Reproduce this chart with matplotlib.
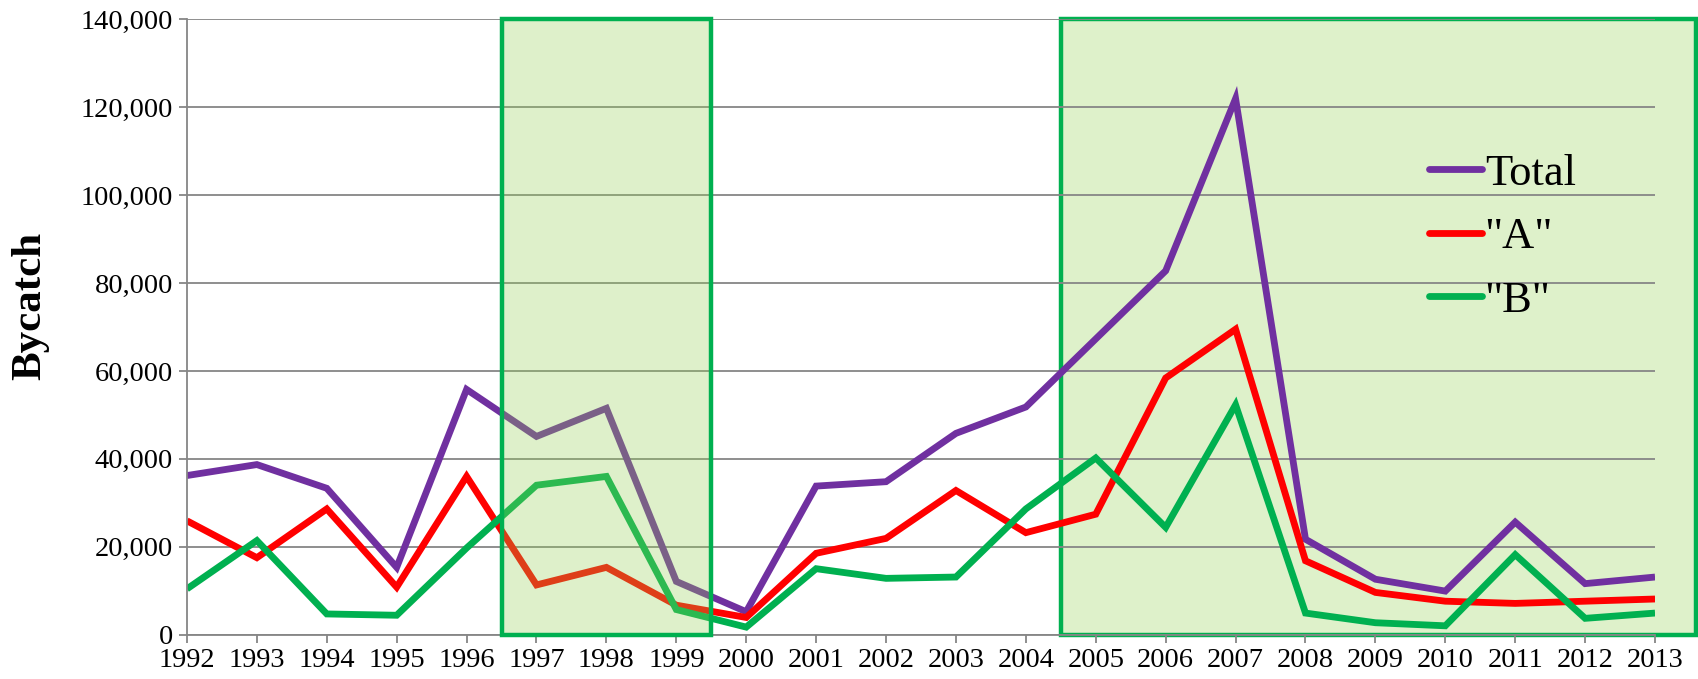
import matplotlib.pyplot as plt
from matplotlib.patches import Rectangle
from matplotlib.ticker import FuncFormatter

years = list(range(1992, 2014))
total = [36200, 38700, 33300, 15300, 55800, 45100, 51500, 12100, 5200, 33800, 34800,
         45800, 51800, 67300, 82800, 122000, 21700, 12600, 9900, 25600, 11600, 13100]
a_vals = [25900, 17500, 28600, 10800, 36000, 11300, 15300, 6700, 3900, 18500, 21900,
          32800, 23200, 27400, 58400, 69500, 16800, 9600, 7600, 7100, 7600, 8100]
b_vals = [10400, 21400, 4700, 4400, 19700, 34000, 36000, 5700, 1700, 15000, 12800,
          13100, 28600, 40200, 24400, 52300, 4900, 2700, 2000, 18200, 3700, 4900]
labels = ["Total", '"A"', '"B"']
colors = ["#7030A0", "#FF0000", "#00B050"]

plt.rcParams['font.family'] = ['Liberation Serif', 'DejaVu Serif']

fig = plt.figure(figsize=(16.98, 6.79), dpi=100)
ax = fig.add_axes([0.1101, 0.0654, 0.8646, 0.9059])

# shaded periods
rect2 = Rectangle((2004.5, 0), 9.08, 140000, facecolor="#DEF1CA", edgecolor="#00B050",
                  linewidth=3.2, zorder=0.2, clip_on=False)
ax.add_patch(rect2)

for vals, lab, col in zip([total, a_vals, b_vals], labels, colors):
    ax.plot(years, vals, color=col, linewidth=4.9, label=lab, solid_joinstyle='miter',
            solid_capstyle='butt', zorder=2)

rect1 = Rectangle((1996.5, 0), 3.0, 140000, facecolor=(146/255, 208/255, 80/255, 0.3),
                  edgecolor="#00B050", linewidth=3.2, zorder=3, clip_on=False)
ax.add_patch(rect1)

ax.set_xlim(1992, 2013)
ax.set_ylim(0, 140000)
ax.set_xticks(years)
ax.set_yticks(range(0, 140001, 20000))
ax.yaxis.set_major_formatter(FuncFormatter(lambda v, p: f"{int(v):,}"))
ax.grid(axis='y', color="#868686", linewidth=1.3)
ax.set_axisbelow(True)
ax.tick_params(axis='both', labelsize=20.5, color="#868686", length=6, width=1.3)
ax.tick_params(axis='x', pad=4)
ax.tick_params(axis='y', pad=4)
for s in ['top', 'right']:
    ax.spines[s].set_visible(False)
for s in ['left', 'bottom']:
    ax.spines[s].set_color("#868686")
    ax.spines[s].set_linewidth(1.3)
ax.spines['bottom'].set_zorder(0.6)

ax.set_ylabel("Bycatch", fontsize=31, fontweight='bold')
ax.yaxis.set_label_coords(-0.094, 0.535)

leg = ax.legend(loc='upper left', bbox_to_anchor=(0.831, 0.818), frameon=False,
                fontsize=32, handlelength=1.2, handletextpad=0.05, labelspacing=0.525,
                borderpad=0)
for h in leg.get_lines():
    h.set_solid_capstyle('round')

fig.savefig("out.png", dpi=100)
